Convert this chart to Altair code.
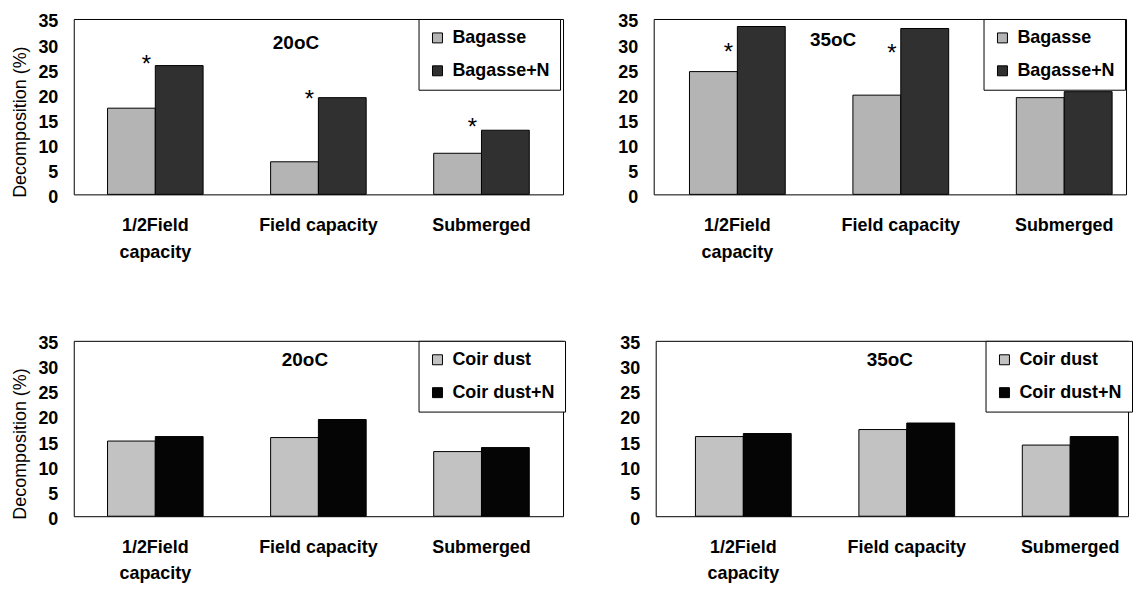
import altair as alt
import pandas as pd

FONT = "Liberation Sans"

categories = ["1/2Field capacity", "Field capacity", "Submerged"]

bagasse_names = ["Bagasse", "Bagasse+N"]
coir_names = ["Coir dust", "Coir dust+N"]

bagasse_20 = [17.2, 6.5, 8.2]
bagasse_n_20 = [25.7, 19.3, 12.8]
bagasse_35 = [24.5, 19.8, 19.3]
bagasse_n_35 = [33.5, 33.1, 20.5]

coir_20 = [15.0, 15.7, 12.9]
coir_n_20 = [15.9, 19.3, 13.7]
coir_35 = [15.9, 17.3, 14.2]
coir_n_35 = [16.5, 18.6, 15.9]

star_20_cats = ["1/2Field capacity", "Field capacity", "Submerged"]
star_20_vals = [26.8, 19.8, 14.2]
star_35_cats = ["1/2Field capacity", "Field capacity"]
star_35_vals = [29.2, 29.0]

y_ticks = [0, 5, 10, 15, 20, 25, 30, 35]

bagasse_colors = ["#b4b4b4", "#303030"]
coir_colors = ["#c2c2c2", "#050505"]


def panel(vals_a, vals_b, names, colors, temp, star_cats, star_vals,
          width, title_x, title_y, legend_x, show_ytitle, outer, align):
    df = pd.DataFrame({
        "cat": categories * 2,
        "series": [names[0]] * 3 + [names[1]] * 3,
        "value": vals_a + vals_b,
    })
    x_axis = alt.Axis(
        title=None, labelAngle=0, ticks=False, domain=False,
        labelPadding=22, labelFontSize=18, labelFontWeight="bold",
        labelLineHeight=27,
        labelExpr="datum.value == '1/2Field capacity' ? ['1/2Field', 'capacity'] : datum.value",
    )
    x = alt.X("cat:N", sort=categories,
              scale=alt.Scale(domain=categories, paddingInner=0.414,
                              paddingOuter=outer, align=align),
              axis=x_axis)
    y_axis_kw = dict(values=y_ticks, ticks=False, domain=False, grid=False,
                     labelPadding=16, labelFontSize=18, labelFontWeight="bold",
                     labelOffset=3)
    if show_ytitle:
        y_axis = alt.Axis(title="Decomposition (%)", titleFontSize=18,
                          titleFontWeight="normal", titlePadding=8, titleY=103,
                          **y_axis_kw)
    else:
        y_axis = alt.Axis(title=None, **y_axis_kw)
    y = alt.Y("value:Q", scale=alt.Scale(domain=[0, 35], nice=False), axis=y_axis)

    bars = alt.Chart(df).mark_bar(stroke="black", strokeWidth=1).encode(
        x=x,
        xOffset=alt.XOffset("series:N", sort=names,
                            scale=alt.Scale(domain=names, paddingInner=0, paddingOuter=0)),
        y=y,
        color=alt.Color("series:N",
                        scale=alt.Scale(domain=names, range=colors),
                        legend=alt.Legend(title=None, orient="none",
                                          legendX=legend_x, legendY=0)),
    )
    layers = [bars]
    if star_cats:
        stars = alt.Chart(pd.DataFrame({"cat": star_cats, "value": star_vals})).mark_text(
            text="*", font=FONT, fontSize=24, color="black", dx=-9, dy=5,
            baseline="middle", align="center",
        ).encode(x=x, y=y)
        layers.append(stars)
    ttl = alt.Chart(pd.DataFrame({"label": [temp]})).mark_text(
        font=FONT, fontSize=19, fontWeight="bold", color="black",
        align="center", baseline="middle",
    ).encode(x=alt.value(title_x), y=alt.value(title_y), text="label:N")
    layers.append(ttl)
    return alt.layer(*layers).properties(width=width, height=176)


p1 = panel(bagasse_20, bagasse_n_20, bagasse_names, bagasse_colors, "20oC",
           star_20_cats, star_20_vals, 491, 223, 24, 346, True, 0.207, 0.5)
p2 = panel(bagasse_35, bagasse_n_35, bagasse_names, bagasse_colors, "35oC",
           star_35_cats, star_35_vals, 474, 180, 21, 331, False, 0.152, 0.72)
p3 = panel(coir_20, coir_n_20, coir_names, coir_colors, "20oC",
           [], [], 491, 232, 19, 346, True, 0.207, 0.5)
p4 = panel(coir_35, coir_n_35, coir_names, coir_colors, "35oC",
           [], [], 474, 235, 19, 331, False, 0.152, 0.8)


def indep(c):
    return c.resolve_scale(color="independent", xOffset="independent").resolve_legend(
        color="independent")


top = indep(alt.hconcat(p1, p2, spacing=53))
bottom = indep(alt.hconcat(p3, p4, spacing=53))

chart = indep(alt.vconcat(top, bottom, spacing=72)).properties(
    padding={"left": 3, "top": 3, "right": 0, "bottom": 0},
    background="white",
).configure_view(
    stroke="black", strokeWidth=1,
).configure_axis(
    labelFont=FONT, titleFont=FONT, labelColor="black", titleColor="black",
).configure_legend(
    strokeColor="black", fillColor="white", padding=10, rowPadding=15,
    symbolType="square", symbolSize=100, symbolStrokeColor="black",
    symbolStrokeWidth=1, labelFont=FONT, labelFontSize=18,
    labelFontWeight="bold", labelColor="black", labelOffset=6,
    cornerRadius=0,
)

chart.save("out.html", embed_options={"renderer": "svg", "actions": False})
